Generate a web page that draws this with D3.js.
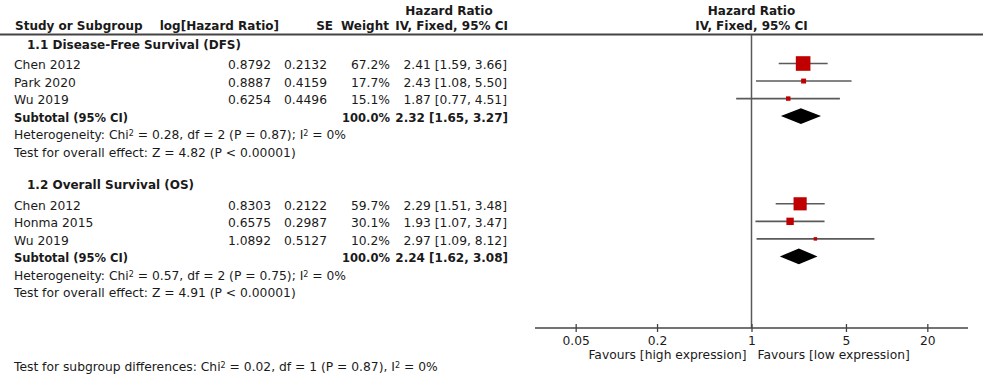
<!DOCTYPE html>
<html lang="en">
<head>
    <meta charset="utf-8"/>
    <title>Forest plot - Hazard Ratio</title>
    <script src="https://d3js.org/d3.v7.min.js"></script>
    <style>
        body { margin: 0; background: #fff; }
        svg text { font-family: "DejaVu Sans", sans-serif; font-size: 12.3px; fill: #1a1a1a; }
        .bold { font-weight: bold; font-size: 11.5px; }
        .head { font-weight: bold; font-size: 12px; }
    </style>
</head>
<body>
<svg width="983" height="377"></svg>

<script type="text/javascript">

    // datos del grafico
    const groupNames = ["1.1 Disease-Free Survival (DFS)", "1.2 Overall Survival (OS)"];
    const studies = [
        ["Chen 2012", "Park 2020", "Wu 2019"],
        ["Chen 2012", "Honma 2015", "Wu 2019"]
    ];
    const logHR = [[0.8792, 0.8887, 0.6254], [0.8303, 0.6575, 1.0892]];
    const se = [[0.2132, 0.4159, 0.4496], [0.2122, 0.2987, 0.5127]];
    const weights = [[67.2, 17.7, 15.1], [59.7, 30.1, 10.2]];
    const hr = [[2.41, 2.43, 1.87], [2.29, 1.93, 2.97]];
    const lower = [[1.59, 1.08, 0.77], [1.51, 1.07, 1.09]];
    const upper = [[3.66, 5.50, 4.51], [3.48, 3.47, 8.12]];
    const subHR = [2.32, 2.24];
    const subLower = [1.65, 1.62];
    const subUpper = [3.27, 3.08];
    const heterogeneity = [
        ["0.28", "2", "0.87", "0%"],
        ["0.57", "2", "0.75", "0%"]
    ];
    const overallZ = [["4.82", "< 0.00001"], ["4.91", "< 0.00001"]];
    const subgroupTest = ["0.02", "1", "0.87", "0%"];
    const xTicks = [0.05, 0.2, 1, 5, 20];
    const xDomain = [0.025, 40];
    const favours = ["Favours [high expression]", "Favours [low expression]"];

    const red = "#c00000", grey = "#5a5a5a";
    const svg = d3.select("svg");

    // escalas
    let x = d3.scaleLog().domain(xDomain).range([535, 968]);
    let y = d3.scaleLinear().domain([1, 14]).range([65, 293]);
    let boxSize = d3.scaleLinear().domain([0, 100]).range([1.5, 21]);
    const f2 = d3.format(".2f"), f4 = d3.format(".4f"), f1 = d3.format(".1f");

    function txt(xp, yp, s, anchor, cls) {
        return svg.append("text")
            .attr("x", xp).attr("y", yp)
            .attr("dy", "0.35em")
            .attr("text-anchor", anchor || "start")
            .attr("class", cls || null)
            .text(s);
    }

    function supText(xp, yp, parts) {
        // parts: array of [texto, esSuperindice]
        let t = svg.append("text").attr("x", xp).attr("y", yp).attr("dy", "0.35em");
        parts.forEach(p => {
            let ts = t.append("tspan").text(p[0]);
            if (p[1]) ts.attr("baseline-shift", "35%").style("font-size", "8px");
        });
        return t;
    }

    // encabezados
    txt(449, 11, "Hazard Ratio", "middle", "head");
    txt(x(1), 11, "Hazard Ratio", "middle", "head");
    txt(15, 26, "Study or Subgroup", "start", "head");
    txt(279, 26, "log[Hazard Ratio]", "end", "head");
    txt(333, 26, "SE", "end", "head");
    txt(389, 26, "Weight", "end", "head");
    txt(508, 26, "IV, Fixed, 95% CI", "end", "head");
    txt(x(1), 26, "IV, Fixed, 95% CI", "middle", "head");

    svg.append("line")
        .attr("x1", 0).attr("x2", 983)
        .attr("y1", 34.5).attr("y2", 34.5)
        .attr("stroke", "#444").attr("stroke-width", 2);

    // linea vertical en HR = 1
    svg.append("line")
        .attr("x1", x(1)).attr("x2", x(1))
        .attr("y1", 35).attr("y2", 328)
        .attr("stroke", grey).attr("stroke-width", 1.5);

    // grupos
    groupNames.forEach((g, gi) => {
        const base = gi * 8;
        txt(27, y(base) - 2.5, g, "start", "head");

        studies[gi].forEach((s, i) => {
            const ry = y(base + 1 + i);
            txt(14, ry, s);
            txt(271, ry, f4(logHR[gi][i]), "end");
            txt(327, ry, f4(se[gi][i]), "end");
            txt(390, ry, f1(weights[gi][i]) + "%", "end");
            txt(507, ry, f2(hr[gi][i]) + " [" + f2(lower[gi][i]) + ", " + f2(upper[gi][i]) + "]", "end");

            const my = ry - 1.5;
            svg.append("line")
                .attr("x1", x(lower[gi][i])).attr("x2", x(upper[gi][i]))
                .attr("y1", my).attr("y2", my)
                .attr("stroke", grey).attr("stroke-width", 1.6);
            const b = boxSize(weights[gi][i]);
            svg.append("rect")
                .attr("x", x(hr[gi][i]) - b / 2).attr("y", my - b / 2)
                .attr("width", b).attr("height", b)
                .attr("fill", red);
        });

        const sy = y(base + 4);
        txt(14, sy, "Subtotal (95% CI)", "start", "bold");
        txt(390, sy, "100.0%", "end", "bold");
        txt(508, sy, f2(subHR[gi]) + " [" + f2(subLower[gi]) + ", " + f2(subUpper[gi]) + "]", "end", "head");

        const dy = sy - 1.5;
        svg.append("path")
            .attr("d", d3.line()([
                [x(subLower[gi]), dy], [x(subHR[gi]), dy - 7.8],
                [x(subUpper[gi]), dy], [x(subHR[gi]), dy + 7.8]
            ]) + "Z")
            .attr("fill", "#000");

        const h = heterogeneity[gi];
        supText(14, y(base + 5), [
            ["Heterogeneity: Chi", false], ["2", true],
            [" = " + h[0] + ", df = " + h[1] + " (P = " + h[2] + "); I", false], ["2", true],
            [" = " + h[3], false]
        ]);
        txt(14, y(base + 6), "Test for overall effect: Z = " + overallZ[gi][0] + " (P " + overallZ[gi][1] + ")");
    });

    supText(14, 367, [
        ["Test for subgroup differences: Chi", false], ["2", true],
        [" = " + subgroupTest[0] + ", df = " + subgroupTest[1] + " (P = " + subgroupTest[2] + "), I", false], ["2", true],
        [" = " + subgroupTest[3], false]
    ]);

    // eje x
    let xAxis = d3.axisBottom(x)
        .tickValues(xTicks)
        .tickFormat(d => String(d))
        .tickSize(4)
        .tickPadding(4);

    let gx = svg.append("g")
        .attr("transform", "translate(0,328)")
        .call(xAxis);
    gx.select(".domain").attr("d", "M" + x.range()[0] + ",0H" + x.range()[1])
        .attr("stroke", "#444").attr("stroke-width", 1.5);
    gx.selectAll(".tick line").attr("y1", -4).attr("stroke", "#444").attr("stroke-width", 1.3);
    gx.selectAll(".tick text").attr("fill", "#1a1a1a")
        .style("font-family", "DejaVu Sans, sans-serif").style("font-size", "12.3px");

    txt(x(1) - 5, 355, favours[0], "end");
    txt(x(1) + 6, 355, favours[1], "start");

</script>
</body>
</html>
